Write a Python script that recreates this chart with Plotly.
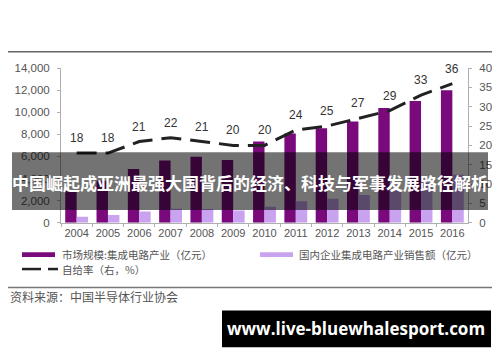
import plotly.graph_objects as go

years = ["2004", "2005", "2006", "2007", "2008", "2009", "2010",
         "2011", "2012", "2013", "2014", "2015", "2016"]
market = [2908, 3804, 4863, 5624, 5974, 5676, 7350, 8066, 8558, 9166, 10393, 11024, 11986]
sales = [545, 702, 1006, 1251, 1246, 1109, 1440, 1934, 2158, 2509, 3015, 3610, 4336]
ratio = [18, 18, 21, 22, 21, 20, 20, 24, 25, 27, 29, 33, 36]

left_ticks = [0, 2000, 4000, 6000, 8000, 10000, 12000, 14000]
left_tick_text = ["0", "2,000", "4,000", "6,000", "8,000", "10,000", "12,000", "14,000"]
right_ticks = [0, 5, 10, 15, 20, 25, 30, 35, 40]

title_text = "中国崛起成亚洲最强大国背后的经济、科技与军事发展路径解析"
legend_market = "市场规模:集成电路产业（亿元）"
legend_sales = "国内企业集成电路产业销售额（亿元）"
legend_ratio = "自给率（右，%）"
source_text = "资料来源：中国半导体行业协会"
watermark = "www.live-bluewhalesport.com"

# page body has an 8px default margin, so the figure is placed at (8, 8)
OX, OY = 8, 8
W, H = 492, 354
DARK = "#7a0a7c"
LIGHT = "#c9a2f0"
AX = "#b0b0b0"
TXT = "#555555"

def px(x):
    return (x - OX) / W

def py(y):
    return 1 - (y - OY) / H

fig = go.Figure()
fig.add_trace(go.Bar(x=years, y=market, marker=dict(color=DARK, line=dict(width=0)),
                     name=legend_market, yaxis="y"))
fig.add_trace(go.Bar(x=years, y=sales, marker=dict(color=LIGHT, line=dict(width=0)),
                     name=legend_sales, yaxis="y"))
fig.add_trace(go.Scatter(x=years, y=ratio, mode="lines", yaxis="y2",
                         line=dict(color="#222222", width=3, dash="20px,9px"),
                         name=legend_ratio))

fig.update_layout(
    width=W, height=H, margin=dict(l=0, r=0, t=0, b=0),
    paper_bgcolor="white", plot_bgcolor="white",
    showlegend=False, barmode="group", bargap=0.27, bargroupgap=0,
    font=dict(family="Liberation Sans, Arial", size=11, color=TXT),
    xaxis=dict(type="category", domain=[px(61), px(468)], range=[-0.5, len(years) - 0.5],
               showline=True, linecolor=AX, linewidth=1,
               ticks="outside", tickson="boundaries", ticklen=3, tickcolor=AX,
               tickangle=0, tickfont=dict(size=11, color=TXT), showgrid=False, zeroline=False),
    yaxis=dict(domain=[py(224), py(64)], range=[0, 14000], tickvals=left_ticks,
               ticktext=left_tick_text, showline=True, linecolor=AX, linewidth=1,
               ticks="outside", ticklen=3, tickcolor=AX, showgrid=False, zeroline=False,
               tickfont=dict(size=11.5, color=TXT), ticklabelstandoff=5),
    yaxis2=dict(overlaying="y", side="right", range=[0, 40], tickvals=right_ticks,
                showline=True, linecolor=AX, linewidth=1, ticks="outside", ticklen=3,
                tickcolor=AX, showgrid=False, zeroline=False,
                tickfont=dict(size=11.5, color=TXT), ticklabelstandoff=5),
)

shapes = []
shapes.append(dict(type="line", xref="paper", yref="paper", x0=px(8), x1=px(500), y0=py(47), y1=py(47),
                   line=dict(color="#666666", width=1.5)))
shapes.append(dict(type="line", xref="paper", yref="paper", x0=px(8), x1=px(495), y0=py(291), y1=py(291),
                   line=dict(color="#777777", width=1.5)))
shapes.append(dict(type="rect", xref="paper", yref="paper", x0=px(22), x1=px(55), y0=py(259.5), y1=py(254.5),
                   fillcolor=DARK, line=dict(width=0)))
shapes.append(dict(type="rect", xref="paper", yref="paper", x0=px(260), x1=px(293), y0=py(259.5), y1=py(254.5),
                   fillcolor=LIGHT, line=dict(width=0)))
shapes.append(dict(type="line", xref="paper", yref="paper", x0=px(22), x1=px(41), y0=py(272), y1=py(272),
                   line=dict(color="#222222", width=2.5)))
shapes.append(dict(type="line", xref="paper", yref="paper", x0=px(48), x1=px(58), y0=py(272), y1=py(272),
                   line=dict(color="#222222", width=2.5)))
shapes.append(dict(type="rect", xref="paper", yref="paper", x0=px(12), x1=px(488), y0=py(211), y1=py(151),
                   fillcolor="rgba(0,0,0,0.55)", line=dict(width=0), layer="above"))
shapes.append(dict(type="rect", xref="paper", yref="paper", x0=px(222), x1=px(491), y0=py(353), y1=py(315),
                   fillcolor="black", line=dict(width=0), layer="above"))
fig.update_layout(shapes=shapes)

ann = []
for i, v in enumerate(ratio):
    ann.append(dict(text=str(v), x=i, y=v, xref="x", yref="y2", yshift=15,
                    xanchor="center", yanchor="middle", showarrow=False,
                    font=dict(family="Liberation Sans, Arial", size=12, color="#333333")))
ann.append(dict(text=legend_market, x=px(61), y=py(257), xref="paper", yref="paper",
                xanchor="left", yanchor="middle", showarrow=False, borderpad=0,
                font=dict(family="Noto Sans CJK SC", size=10.5, color=TXT)))
ann.append(dict(text=legend_sales, x=px(298), y=py(257), xref="paper", yref="paper",
                xanchor="left", yanchor="middle", showarrow=False, borderpad=0,
                font=dict(family="Noto Sans CJK SC", size=10.5, color=TXT)))
ann.append(dict(text=legend_ratio, x=px(61), y=py(272.5), xref="paper", yref="paper",
                xanchor="left", yanchor="middle", showarrow=False, borderpad=0,
                font=dict(family="Noto Sans CJK SC", size=10.5, color=TXT)))
ann.append(dict(text=source_text, x=px(8), y=py(300), xref="paper", yref="paper",
                xanchor="left", yanchor="middle", showarrow=False,
                font=dict(family="Noto Sans CJK SC", size=12, color="#555555")))
ann.append(dict(text="<b>" + title_text + "</b>", x=px(250), y=py(182), xref="paper", yref="paper",
                xanchor="center", yanchor="middle", showarrow=False,
                font=dict(family="Noto Sans CJK SC", size=17, color="white")))
ann.append(dict(text="<b>" + watermark + "</b>", x=px(356), y=py(334), xref="paper", yref="paper",
                xanchor="center", yanchor="middle", showarrow=False,
                font=dict(family="Open Sans", size=17, color="white")))
fig.update_layout(annotations=ann)

fig.write_html("out.html")
